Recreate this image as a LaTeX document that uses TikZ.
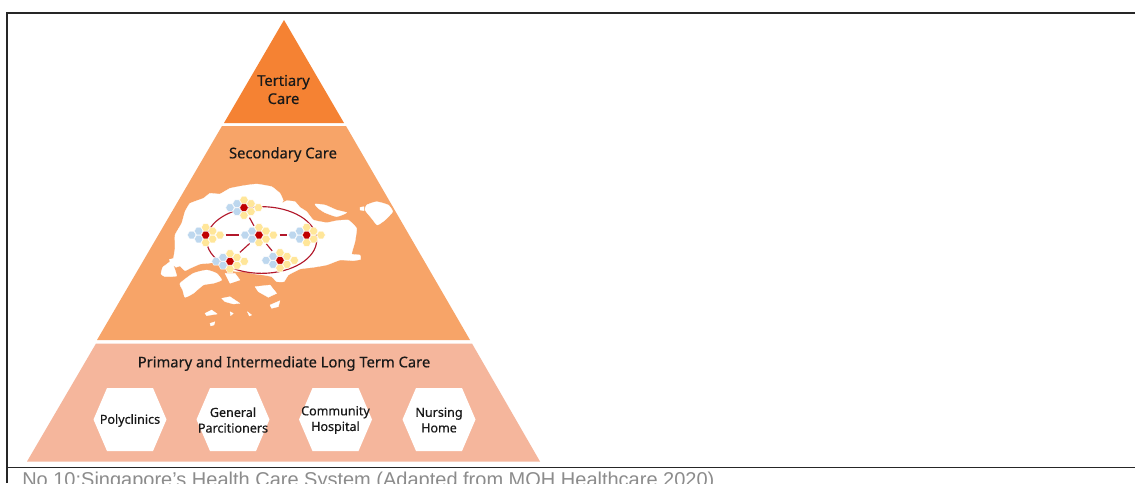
\documentclass[tikz,border=0pt]{standalone}
\usepackage{fontspec}
\setmainfont{Noto Sans}
\newfontfamily\labfont[FakeBold=0.45]{Noto Sans}
\newfontfamily\capfont{Liberation Sans}
\usetikzlibrary{shapes.geometric}
\definecolor{tertc}{HTML}{F58233}
\definecolor{secc}{HTML}{F7A468}
\definecolor{primc}{HTML}{F5B69C}
\definecolor{hubred}{HTML}{C00000}
\definecolor{cellblue}{HTML}{BDD7EE}
\definecolor{cellyel}{HTML}{FFE699}
\definecolor{linered}{HTML}{B2182B}
\tikzset{
  frame/.style={draw=black!85,line width=1.1pt},
  tier/.style={font=\labfont\fontsize{11.05pt}{13.6pt}\selectfont,text=black!90,align=center,inner sep=0pt},
  hexlabel/.style={font=\labfont\fontsize{9.4pt}{11.7pt}\selectfont,text=black!90,align=center,inner sep=0pt},
  hexfill/.style={fill=white},
  cell/.style={regular polygon,regular polygon sides=6,minimum size=6.5pt,inner sep=0pt,draw=white,line width=0.3pt},
  hub/.style={cell,fill=hubred},
  blue/.style={cell,fill=cellblue},
  yel/.style={cell,fill=cellyel},
  land/.style={fill=white,draw=white,line width=0.2pt,line join=round},
  wire/.style={draw=linered,line width=0.85pt},
}
\newcommand{\hexbox}[4]{%
  \fill[hexfill] (#2-36.5,419.5) -- (#2-23,388) -- (#2+23,388) -- (#2+36.5,419.5) -- (#2+23,451) -- (#2-23,451) -- cycle;
  \node[hexlabel] (#1) at (#2,#3) {#4};}
\newcommand{\clusterat}[3]{%
  \begin{scope}[shift={(#2,#3)}]
    \node[blue] (#1b1) at (-21,-12) {};
    \node[blue] (#1b2) at (-21,12) {};
    \node[blue] (#1b3) at (-42,0) {};
    \node[yel] (#1y1) at (0,-23) {};
    \node[yel] (#1y2) at (0,23) {};
    \node[yel] (#1y3) at (21,-12) {};
    \node[yel] (#1y4) at (21,12) {};
    \node[yel] (#1y5) at (43,0) {};
    \node[hub] (#1) at (0,0) {};
  \end{scope}}
\begin{document}
\begin{tikzpicture}[x=0.75pt,y=-0.75pt]
\useasboundingbox (0,0) rectangle (1135,483);
\fill[white] (0,0) rectangle (1135,483);
% frame
\coordinate (fa) at (7,483);
\coordinate (fb) at (7,13);
\coordinate (fc) at (1135,13);
\coordinate (fd) at (7,467.5);
\coordinate (fe) at (1135,467.5);
\draw[frame] (fa) -- (fb) -- (fc);
\draw[frame] (fd) -- (fe);
% tiers
\fill[tertc] (284,20) -- (344,123) -- (224,123) -- cycle;
\fill[secc] (222,126) -- (346,126) -- (470,340) -- (97,340) -- cycle;
\fill[primc] (96,343.5) -- (472,343.5) -- (540,461.5) -- (27,461.5) -- cycle;
\node[tier] (tert) at (283.5,89.5) {Tertiary\\Care};
\node[tier] (sec) at (283,154.5) {Secondary Care};
\node[tier] (prim) at (284,363.5) {Primary and Intermediate Long Term Care};
% map, in units of one third of a pixel
\begin{scope}[shift={(140,170)},x=0.25pt,y=-0.25pt]
\path[land] plot[smooth cycle,tension=0.2] coordinates {(63,312) (68,292) (90,275) (88,268) (100,265) (105,235) (105,195) (125,160) (135,125) (150,100) (190,85) (210,70) (240,72) (270,55) (310,47) (350,42) (395,50) (420,70) (430,92) (422,102) (440,92) (465,95) (480,112) (500,125) (520,150) (560,158) (590,152) (625,150) (650,175) (645,215) (635,252) (660,255) (662,268) (640,272) (600,270) (560,285) (520,292) (480,297) (445,315) (432,335) (410,335) (395,320) (370,315) (345,312) (310,305) (290,305) (270,300) (245,285) (225,277) (205,280) (180,282) (150,295) (135,302) (120,288) (108,292) (100,285) (110,318) (75,320)};
\path[land] plot[smooth cycle,tension=0.3] coordinates {(525,102) (555,105) (590,120) (620,128) (590,140) (555,128) (535,115)};
\path[land] plot[smooth cycle,tension=0.3] coordinates {(680,105) (710,95) (745,105) (758,125) (735,150) (712,165) (695,145) (675,120)};
\path[land] (660,112) -- (672,110) -- (672,122) -- (660,120) -- cycle;
\path[land] plot[smooth cycle,tension=0.3] coordinates {(120,340) (160,310) (200,300) (230,310) (245,330) (220,340) (190,345) (160,370) (135,382) (128,360)};
\path[land] (255,310) -- (285,310) -- (300,330) -- (270,340) -- cycle;
\path[land] (345,350) -- (390,345) -- (410,370) -- (385,382) -- (355,365) -- cycle;
\path[land] (195,430) -- (215,420) -- (232,432) -- (200,437) -- cycle;
\path[land] (245,385) -- (270,380) -- (300,400) -- (280,402) -- (255,395) -- cycle;
\path[land] (210,460) -- (225,455) -- (222,465) -- (212,468) -- cycle;
\path[land] (270,425) -- (280,430) -- (272,437) -- cycle;
\path[land] (322,425) -- (335,435) -- (328,438) -- cycle;
\path[land] (390,405) -- (420,392) -- (415,410) -- (395,415) -- cycle;
% ring and clusters
\draw[wire] (365,210) ellipse [x radius=165,y radius=100];
\clusterat{ha}{312}{113}
\clusterat{hb}{197}{195}
\clusterat{hc}{357}{195}
\clusterat{hd}{500}{195}
\clusterat{he}{270}{274}
\clusterat{hf}{420}{271}
\draw[wire,shorten <=11.5pt,shorten >=11.7pt] (hb) -- (hc);
\draw[wire,shorten <=12pt,shorten >=11pt] (hc) -- (hd);
\draw[wire,shorten <=5.2pt,shorten >=4.5pt] (ha) -- (hc);
\draw[wire,shorten <=6.5pt,shorten >=7pt] (hc) -- (he);
\draw[wire,shorten <=5.5pt,shorten >=6pt] (hc) -- (hf);
\end{scope}
% hexagons
\hexbox{poly}{130}{420.5}{Polyclinics}
\hexbox{gp}{233}{420}{General\\Parcitioners}
\hexbox{comm}{335.5}{420}{Community\\Hospital}
\hexbox{nurs}{439}{420}{Nursing\\Home}
% caption
\node[anchor=base west,inner sep=0pt,font=\capfont\fontsize{15pt}{18pt}\selectfont,text=black!45] (cap) at (22,486) {No 10:Singapore’s Health Care System (Adapted from MOH Healthcare 2020)};
\end{tikzpicture}
\end{document}
